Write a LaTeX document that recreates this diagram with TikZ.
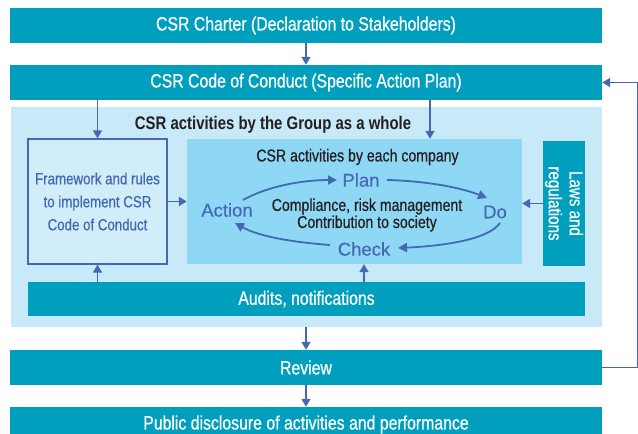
\documentclass[tikz,border=0pt]{standalone}
\usepackage{fontspec}
\setmainfont{Liberation Sans}[FakeStretch=0.82]
\newfontfamily\condreg{Liberation Sans}[FakeStretch=0.82,FakeBold=0.6]
\newfontfamily\widefont{Liberation Sans}[FakeBold=0.3]
\usetikzlibrary{arrows.meta}
\definecolor{teal1}{RGB}{0,159,190}
\definecolor{lightbg}{RGB}{200,233,248}
\definecolor{compbg}{RGB}{142,216,245}
\definecolor{fwbg}{RGB}{210,237,250}
\definecolor{arrblue}{RGB}{68,104,180}
\definecolor{darktext}{RGB}{35,31,32}
\begin{document}
\begin{tikzpicture}[x=1pt,y=-1pt,
 tealbox/.style={fill=teal1, text=white, inner sep=0pt, minimum width=592pt, minimum height=35pt, font=\condreg\fontsize{19.3}{21}\selectfont},
 arr/.style={draw=arrblue, line width=1.6pt, -{Triangle[length=8pt,width=9pt]}},
 pdca/.style={text=arrblue, font=\widefont\fontsize{18.5}{20}\selectfont, inner sep=0pt},
 cyc/.style={draw=arrblue, line width=1.8pt, -{Triangle[length=9pt,width=9pt]}}]
\useasboundingbox (0,0) rectangle (638,434);
% top boxes
\node[tealbox] (charter) at (306,25.5) {CSR Charter (Declaration to Stakeholders)};
\node[tealbox] (code) at (306,82.5) {CSR Code of Conduct (Specific Action Plan)};
% group background
\node[fill=lightbg, minimum width=591pt, minimum height=220pt, inner sep=0pt] (group) at (306,217) {};
\node[font=\bfseries\fontsize{18.2}{20}\selectfont, text=darktext, inner sep=0pt] (gtitle) at (273,125) {CSR activities by the Group as a whole};
% framework box
\node[draw=arrblue, line width=1.2pt, fill=fwbg, minimum width=139pt, minimum height=125pt, inner sep=0pt, align=center, text=arrblue, font=\condreg\fontsize{16.2}{23}\selectfont] (fw) at (97.5,201.5) {Framework and rules\\to implement CSR\\Code of Conduct};
% company box
\node[fill=compbg, minimum width=335pt, minimum height=125pt, inner sep=0pt] (comp) at (354.5,201.5) {};
\node[text=darktext, inner sep=0pt, font=\condreg\fontsize{17.2}{18}\selectfont] (ctitle) at (357.5,157) {CSR activities by each company};
\node[align=center, text=darktext, inner sep=0pt, font=\condreg\fontsize{17.2}{16}\selectfont] (compl) at (367,215) {Compliance, risk management\\Contribution to society};
\node[pdca] (plan) at (361,180) {Plan};
\node[pdca] (do) at (495,212) {Do};
\node[pdca] (check) at (364,249) {Check};
\node[pdca] (action) at (227,210) {Action};
% laws box
\node[fill=teal1, minimum width=42pt, minimum height=125pt, inner sep=0pt] (laws) at (564,203.5) {};
\node[rotate=-90, text=white, align=center, inner sep=0pt, font=\condreg\fontsize{18.5}{21}\selectfont] (lawstext) at (564,203.5) {Laws and\\regulations};
% audits, review, disclosure
\node[tealbox, minimum width=557pt, minimum height=34pt] (audits) at (306.5,299) {Audits, notifications};
\node[tealbox] (review) at (306,367.5) {Review};
\node[tealbox] (disc) at (306,424.5) {Public disclosure of activities and performance};
% helper coordinates
\coordinate (c1) at (430,0);
\coordinate (fb) at (638,0);
\coordinate (a1) at (243,200);
\coordinate (a2) at (337,180);
\coordinate (p1) at (387,180);
\coordinate (p2) at (487,198);
\coordinate (d1) at (500,223);
\coordinate (d2) at (398,248);
\coordinate (k1) at (330,245);
\coordinate (k2) at (235,223);
% connectors
\draw[arr] (charter) -- (code);
\draw[arr] (code.south -| fw.north) -- (fw.north);
\draw[arr] (code.south -| c1) -- (comp.north -| c1);
\draw[arr] (fw.east) -- (fw.east -| comp.west);
\draw[arr] (laws.west) -- (laws.west -| comp.east);
\draw[arr] (audits.north -| fw.south) -- (fw.south);
\draw[arr] (audits.north -| check) -- (comp.south -| check);
\draw[arr] (group.south) -- (review.north);
\draw[arr] (review) -- (disc);
\draw[arr, line join=miter] (review.east) -- (review.east -| fb) -- (code.east -| fb) -- (code.east);
% PDCA cycle
\draw[cyc] (a1) .. controls (268,186) and (303,180) .. (a2);
\draw[cyc] (p1) .. controls (428,181) and (462,188) .. (p2);
\draw[cyc] (d1) .. controls (488,240) and (442,246) .. (d2);
\draw[cyc] (k1) .. controls (290,242) and (258,236) .. (k2);
\end{tikzpicture}
\end{document}
